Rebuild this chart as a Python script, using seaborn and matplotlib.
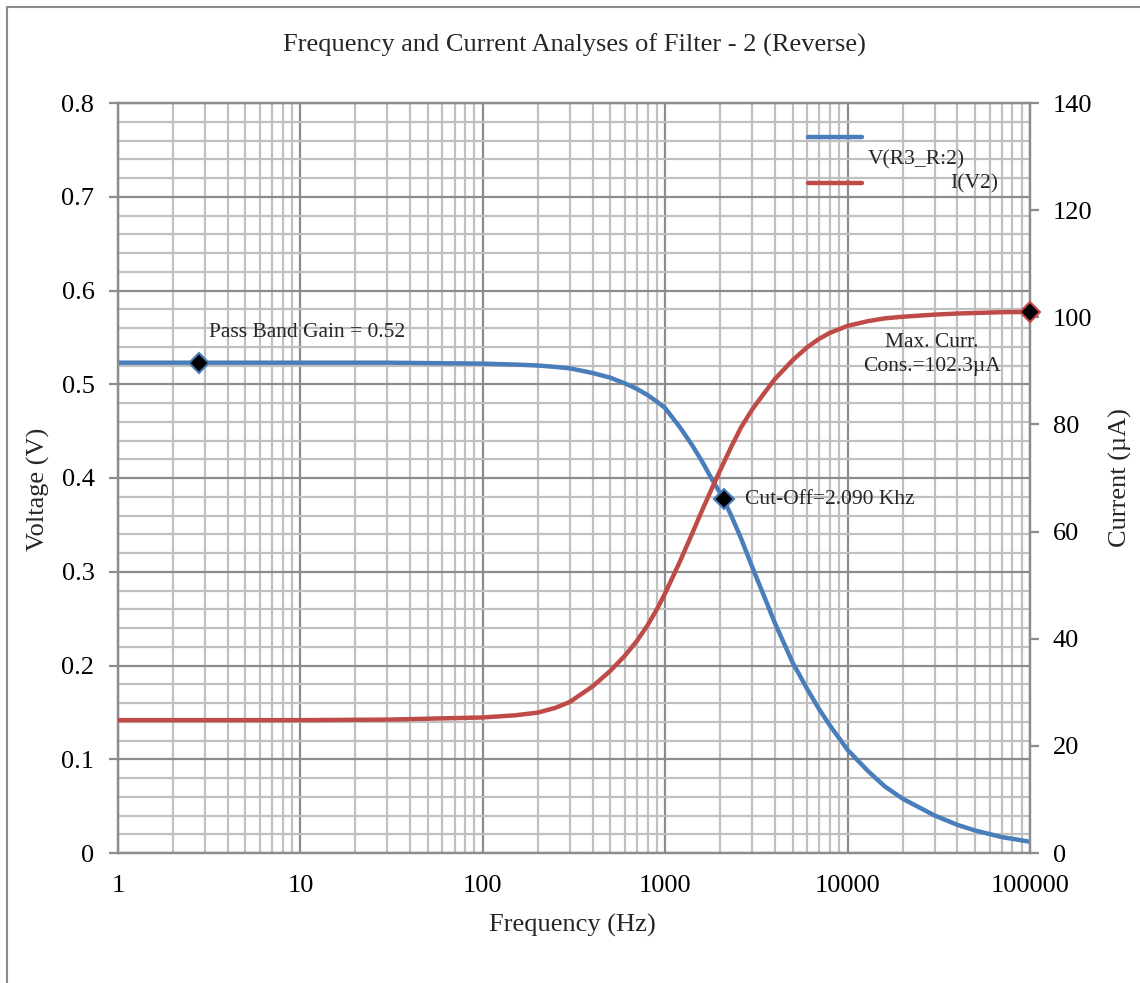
import numpy as np
import pandas as pd
import matplotlib
matplotlib.use("Agg")
import matplotlib.pyplot as plt
import seaborn as sns
from matplotlib.ticker import FixedLocator, FuncFormatter, NullFormatter, MultipleLocator
from matplotlib.lines import Line2D
from matplotlib.patches import Rectangle

# ---- data ----
freq_hz = [1, 3, 10, 30, 100, 150, 200, 250, 300, 400, 500, 600, 700, 800, 900, 1000,
           1200, 1400, 1600, 1800, 2000, 2090, 2300, 2600, 3000, 3500, 4000, 5000,
           6000, 7000, 8000, 10000, 13000, 16000, 20000, 30000, 40000, 50000,
           70000, 100000]
voltage_v = [0.523, 0.523, 0.523, 0.523, 0.522, 0.521, 0.520, 0.5185, 0.517, 0.512,
             0.507, 0.501, 0.495, 0.4885, 0.4815, 0.4745, 0.4545, 0.4355, 0.417,
             0.399, 0.384, 0.377, 0.360, 0.336, 0.305, 0.273, 0.245, 0.203, 0.175,
             0.153, 0.136, 0.110, 0.087, 0.071, 0.058, 0.040, 0.030, 0.024, 0.017,
             0.012]
current_ua = [24.8, 24.8, 24.8, 24.9, 25.3, 25.7, 26.2, 27.1, 28.2, 31.1, 34.0,
              36.8, 39.6, 42.5, 45.5, 48.5, 54.3, 59.5, 64.1, 68.0, 71.4, 72.8,
              75.8, 79.4, 82.8, 85.9, 88.5, 92.0, 94.4, 96.0, 97.1, 98.4, 99.3,
              99.8, 100.1, 100.5, 100.7, 100.8, 100.95, 101.0]

marker_freq_v = [2.78, 2090]
marker_val_v = [0.523, 0.378]
marker_freq_i = [100000]
marker_val_i = [101.0]

x_ticks = [1, 10, 100, 1000, 10000, 100000]
v_ticks = [0, 0.1, 0.2, 0.3, 0.4, 0.5, 0.6, 0.7, 0.8]
i_ticks = [0, 20, 40, 60, 80, 100, 120, 140]

title = "Frequency and Current Analyses of Filter - 2 (Reverse)"
series_names = ["V(R3_R:2)", "I(V2)"]

df = pd.DataFrame({"freq": freq_hz, "V": voltage_v, "I": current_ua})

# ---- style ----
sns.set_theme(style="white")
plt.rcParams["font.family"] = ["Liberation Serif", "DejaVu Serif"]

BLUE = "#4a7ebb"
RED = "#be4b48"
MAJOR = "#8c8c8c"
MINOR = "#c0c0c0"
FS = 19
AFS = 15.5

fig = plt.figure(figsize=(11.4, 9.83), dpi=100)
ax = fig.add_axes([118/1140, 1-853/983, 912/1140, 750/983])
ax2 = ax.twinx()

# curves
sns.lineplot(data=df, x="freq", y="V", ax=ax, color=BLUE, lw=3.2, zorder=3)
sns.lineplot(data=df, x="freq", y="I", ax=ax2, color=RED, lw=3.2, zorder=3)

# axes / grid
ax.set_xscale("log")
ax.set_xlim(1, 100000)
ax.set_ylim(0, 0.8)
ax.xaxis.set_major_locator(FixedLocator(x_ticks))
minor_x = [m * 10**d for d in range(0, 5) for m in range(2, 10)]
ax.xaxis.set_minor_locator(FixedLocator(minor_x))
ax.xaxis.set_minor_formatter(NullFormatter())
ax.xaxis.set_major_formatter(FuncFormatter(lambda v, p: f"{int(round(v))}"))
ax.yaxis.set_major_locator(FixedLocator(v_ticks))
ax.yaxis.set_minor_locator(MultipleLocator(0.02))
ax.yaxis.set_major_formatter(FuncFormatter(lambda v, p: f"{v:g}"))

ax.grid(which="minor", color=MINOR, lw=1.6, zorder=0)
ax.grid(which="major", color=MAJOR, lw=1.6, zorder=0)
ax.set_axisbelow(True)

ax.tick_params(axis="both", which="major", direction="out", length=6.5, width=1.6,
               color=MAJOR, labelsize=FS, labelcolor="black")
ax.tick_params(axis="y", pad=10.5)
ax.tick_params(axis="x", pad=9)
ax.tick_params(axis="both", which="minor", length=0)

for a in (ax, ax2):
    for s in ["left", "bottom", "right", "top"]:
        a.spines[s].set_color(MAJOR)
        a.spines[s].set_linewidth(1.6)

ax2.set_ylim(0, 140)
ax2.yaxis.set_major_locator(FixedLocator(i_ticks))
ax2.tick_params(axis="y", which="major", direction="out", length=6.5, width=1.6,
                color=MAJOR, labelsize=FS, pad=10, labelcolor="black")
ax2.grid(False)

# markers
ax.plot(marker_freq_v, marker_val_v, ls="none", marker="D", ms=10, mfc="black",
        mec=BLUE, mew=1.5, zorder=5)
ax2.plot(marker_freq_i, marker_val_i, ls="none", marker="D", ms=10, mfc="black",
         mec=RED, mew=1.5, zorder=5, clip_on=False)

# annotations
ax.text(3.15, 0.5547, "Pass Band Gain = 0.52", fontsize=AFS, ha="left", va="center")
ax.text(2738, 0.3776, "Cut-Off=2.090 Khz", fontsize=AFS, ha="left", va="center")
ax.text(29040, 0.532, "Max. Curr.\nCons.=102.3\u00b5A", fontsize=AFS, ha="center",
        va="center", linespacing=1.35)

# legend (manual, mimicking the reference layout)
ax.add_line(Line2D([0.7566, 0.8158], [0.9547, 0.9547], transform=ax.transAxes,
                   color=BLUE, lw=3.2, solid_capstyle="round", zorder=6))
ax.add_line(Line2D([0.7566, 0.8158], [0.8933, 0.8933], transform=ax.transAxes,
                   color=RED, lw=3.2, solid_capstyle="round", zorder=6))
ax.text(0.8224, 0.924, series_names[0], transform=ax.transAxes, fontsize=AFS,
        ha="left", va="center", zorder=6)
ax.text(0.9649, 0.892, series_names[1], transform=ax.transAxes, fontsize=AFS,
        ha="right", va="center", zorder=6)

# labels
ax.set_xlabel("Frequency (Hz)", fontsize=FS)
ax.xaxis.set_label_coords(0.498, -0.096)
ax.xaxis.label.set_va("center")
ax.set_ylabel("Voltage (V)", fontsize=FS)
ax.yaxis.set_label_coords(-0.0877, 0.485)
ax.yaxis.label.set_va("center")
ax2.set_ylabel("Current (\u00b5A)", fontsize=FS)
ax2.yaxis.set_label_coords(1.0987, 0.50)
ax2.yaxis.label.set_va("center")

fig.text(0.5035, 1-45/983, title, fontsize=FS, ha="center", va="center")

# outer frame
fig.patches.append(Rectangle((7/1140, -0.1), 1.5, 1-7/983+0.1, transform=fig.transFigure,
                             fill=False, edgecolor="#8c8c8c", lw=1.5))

fig.savefig("out.png", dpi=100, facecolor="white")
